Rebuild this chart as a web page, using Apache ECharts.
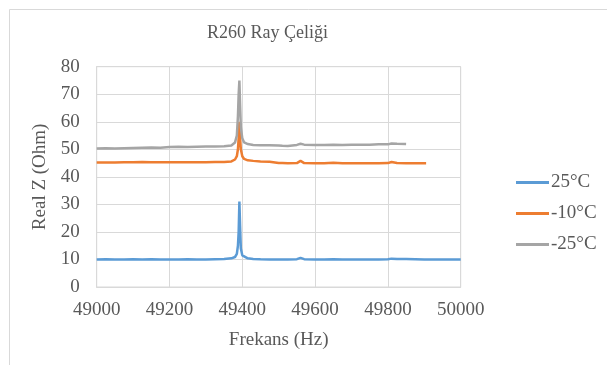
<!DOCTYPE html>
<html>
<head>
<meta charset="utf-8">
<script src="https://cdn.jsdelivr.net/npm/echarts@6/dist/echarts.min.js"></script>
<style>
html,body{margin:0;padding:0;background:#fff;}
#c{width:607px;height:365px;}
</style>
</head>
<body>
<div id="c"></div>
<script>
var titleText = 'R260 Ray Çeliği';
var xTitle = 'Frekans (Hz)';
var yTitle = 'Real Z (Ohm)';
var seriesNames = ['25°C', '-10°C', '-25°C'];

var freq = [49000,49025,49050,49075,49100,49125,49150,49175,49200,49225,
            49250,49275,49300,49325,49350,49370,49380,49385,49388,49390,
            49392,49394,49396,49400,49405,49415,49430,49450,49475,49500,
            49510,49525,49550,49560,49570,49600,49625,49650,49675,49700,
            49725,49750,49775,49800,49810,49825,49850,49875,49900,49905,
            49925,49950,49975,50000];

var z25 = [10.0,10.1,10.0,10.0,10.1,10.0,10.1,10.0,10.0,10.0,
           10.1,10.0,10.0,10.1,10.2,10.4,10.9,12.0,15.0,20.0,
           31.0,22.0,14.0,11.5,10.8,10.4,10.2,10.1,10.0,10.0,
           10.0,10.0,10.1,10.6,10.1,10.0,10.0,10.1,10.0,10.0,
           10.0,10.0,10.0,10.1,10.3,10.2,10.2,10.1,10.0,10.0,
           10.0,10.0,10.0,10.0];

var zm10 = [45.2,45.2,45.2,45.3,45.3,45.4,45.3,45.3,45.3,45.3,
            45.3,45.3,45.3,45.4,45.4,45.6,46.3,47.5,50.0,54.0,
            60.0,54.0,50.0,47.5,46.5,46.0,45.8,45.6,45.5,45.0,
            45.0,44.9,45.0,45.8,45.0,44.9,44.9,45.1,44.9,44.9,
            44.9,44.9,44.9,45.0,45.4,45.0,44.9,44.9,44.9,44.9,
            null,null,null,null];

var zm25 = [50.3,50.4,50.3,50.4,50.5,50.6,50.7,50.6,50.8,50.9,
            50.8,50.9,51.0,51.0,51.1,51.4,52.5,55.0,62.0,70.0,
            75.0,66.0,58.0,54.0,52.5,51.9,51.6,51.5,51.5,51.4,
            51.3,51.2,51.6,52.0,51.7,51.6,51.6,51.7,51.6,51.7,
            51.7,51.7,51.8,51.8,52.1,52.0,51.9,null,null,null,
            null,null,null,null];

var yTicks = [0,10,20,30,40,50,60,70,80];
var xTicks = [49000,49200,49400,49600,49800,50000];

function pairs(vals){
  var out = [];
  for (var i = 0; i < freq.length; i++) {
    if (vals[i] !== null) out.push([freq[i], vals[i]]);
  }
  return out;
}

var font = 'Liberation Serif';
var txt = '#595959';
var colors = ['#5b9bd5', '#ed7d31', '#a5a5a5'];
var allVals = [z25, zm10, zm25];

var chart = echarts.init(document.getElementById('c'), null, {renderer: 'canvas'});
chart.setOption({
  animation: false,
  backgroundColor: '#ffffff',
  color: colors,
  graphic: [{
    type: 'rect',
    shape: {x: 9.5, y: 9.5, width: 620, height: 400},
    style: {fill: 'none', stroke: '#d9d9d9', lineWidth: 1},
    silent: true
  }, {
    type: 'text',
    x: 267.5,
    y: 33,
    style: {text: titleText, fontFamily: font, fontSize: 18, fill: txt,
            textAlign: 'center', textVerticalAlign: 'middle'},
    silent: true
  }],
  legend: {
    orient: 'vertical',
    left: 511,
    top: 167,
    itemWidth: 33,
    itemHeight: 3,
    itemGap: 10,
    icon: 'rect',
    data: seriesNames,
    textStyle: {fontFamily: font, fontSize: 19, color: txt, lineHeight: 21, padding: [0,0,0,-3]}
  },
  grid: {
    left: 96.7, top: 66.7, width: 364, height: 220.3,
    show: true, borderColor: '#d9d9d9', borderWidth: 1, containLabel: false
  },
  xAxis: {
    type: 'value',
    min: 49000, max: 50000, interval: 200,
    name: xTitle,
    nameLocation: 'middle',
    nameGap: 44,
    nameTextStyle: {fontFamily: font, fontSize: 19, color: txt},
    axisLine: {show: true, lineStyle: {color: '#d9d9d9'}},
    axisTick: {show: false},
    axisLabel: {fontFamily: font, fontSize: 19, color: txt, margin: 14,
      formatter: function(v){ return xTicks.indexOf(v) >= 0 ? String(v) : ''; }},
    splitLine: {show: true, lineStyle: {color: '#d9d9d9', width: 1}}
  },
  yAxis: {
    type: 'value',
    min: 0, max: 80, interval: 10,
    name: yTitle,
    nameLocation: 'middle',
    nameGap: 45,
    nameTextStyle: {fontFamily: font, fontSize: 19, color: txt},
    axisLine: {show: true, lineStyle: {color: '#d9d9d9'}},
    axisTick: {show: false},
    axisLabel: {fontFamily: font, fontSize: 19, color: txt, margin: 17,
      formatter: function(v){ return yTicks.indexOf(v) >= 0 ? String(v) : ''; }},
    splitLine: {show: true, lineStyle: {color: '#d9d9d9', width: 1}}
  },
  series: seriesNames.map(function(n, i){
    return {
      name: n,
      type: 'line',
      data: pairs(allVals[i]),
      showSymbol: false,
      symbol: 'none',
      smooth: false,
      lineStyle: {width: 2.5, color: colors[i]},
      itemStyle: {color: colors[i]}
    };
  })
});
</script>
</body>
</html>
